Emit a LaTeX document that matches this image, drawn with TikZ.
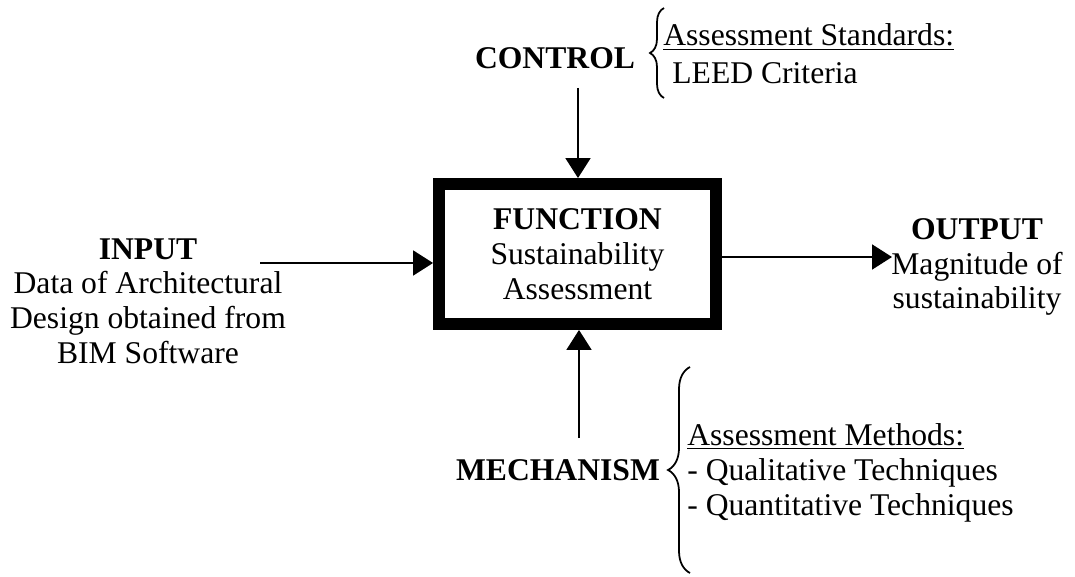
\documentclass[tikz,border=0pt]{standalone}
\usepackage{fontspec}
\setmainfont{Liberation Serif}
\usetikzlibrary{arrows.meta,decorations.pathreplacing}

\begin{document}
\begin{tikzpicture}[
      x=0.02cm,
      y=-0.02cm,
      >={Triangle[length=0.4cm,width=0.5cm]},
      every node/.style={
        font=\fontsize{18}{19.8}\selectfont,
        inner sep=0pt
      },
      heading/.style={
        font=\fontsize{18}{19.8}\selectfont\bfseries
      },
      funcbox/.style={
        draw,
        line width=6.8pt,
        minimum width=5.54cm,
        minimum height=2.8cm,
        align=center
      },
      flow/.style={
        ->,
        line width=1.1pt
      },
      bracket/.style={
        decorate,
        line width=1pt
      }
    ]
      \useasboundingbox (0,0) rectangle (1075,577);

      \node[funcbox] (func) at (577.5,254) {\textbf{FUNCTION}\\Sustainability\\Assessment};

      \node[heading] (ctrl) at (555,58) {CONTROL};
      \node[anchor=west] (std) at (663,37) {\underline{Assessment Standards:}};
      \node[anchor=west] (leed) at (672,73) {LEED Criteria};

      \node[align=center] (inp) at (148,301) {\textbf{INPUT}\\Data of Architectural\\Design obtained from\\BIM Software};
      \node[align=center] (outp) at (977,267) {\textbf{OUTPUT}\\Magnitude of\\sustainability};

      \node[heading] (mech) at (558,470) {MECHANISM};
      \node[anchor=west,align=left] (meth) at (687,473) {\underline{Assessment Methods:}\\- Qualitative Techniques\\- Quantitative Techniques};

      \draw[bracket,decoration={brace,amplitude=0.28cm}] (664,98) -- (664,8);
      \draw[bracket,decoration={brace,amplitude=0.44cm}] (690,573) -- (690,367);

      \coordinate (ctop) at (578,88);
      \coordinate (mbot) at (579,438);
      \coordinate (ina) at (260,263);
      \coordinate (outa) at (892,257);

      \draw[flow] (ctop) -- (ctop |- func.north);
      \draw[flow] (mbot) -- (mbot |- func.south);
      \draw[flow] (ina) -- (ina -| func.west);
      \draw[flow] (outa -| func.east) -- (outa);
    \end{tikzpicture}
\end{document}
